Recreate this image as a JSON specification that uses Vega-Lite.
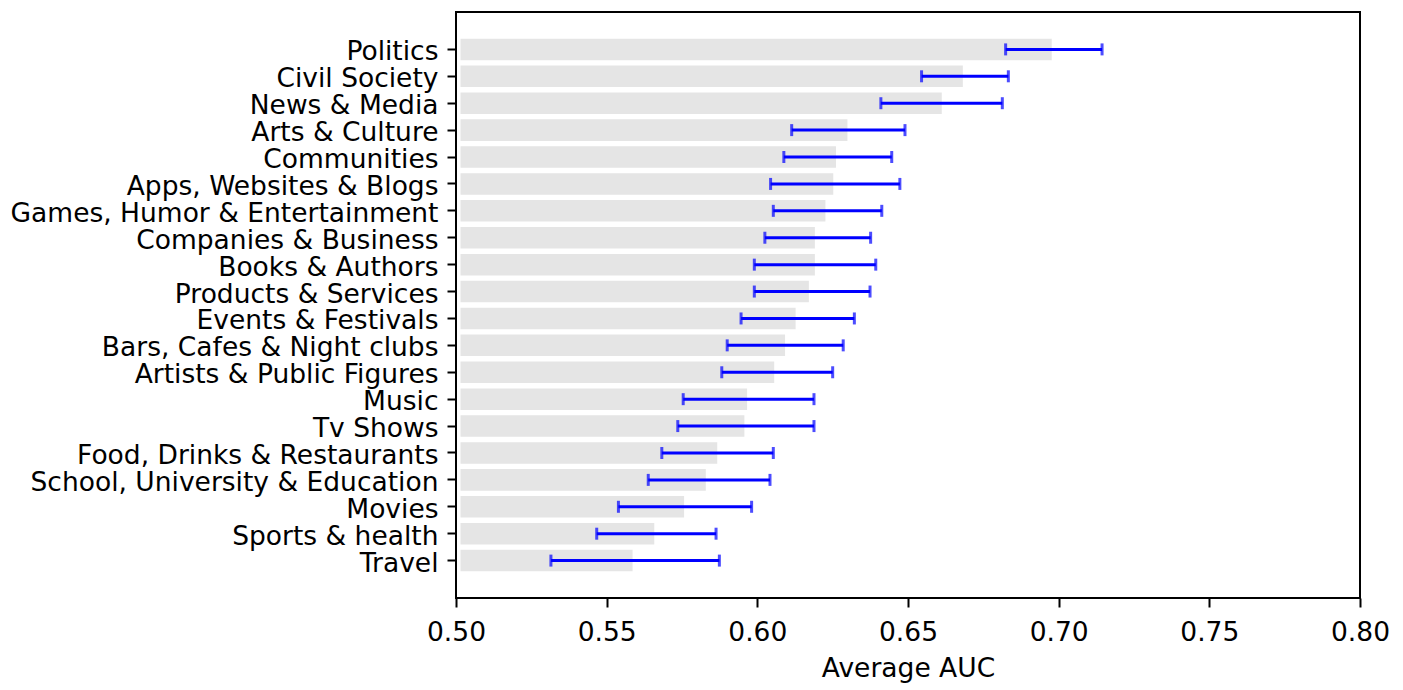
{
  "$schema": "https://vega.github.io/schema/vega-lite/v6.json",
  "width": 904,
  "height": 586,
  "autosize": {"type": "none"},
  "padding": {"left": 456, "top": 12, "right": 43, "bottom": 92},
  "background": "white",
  "config": {
    "font": "DejaVu Sans",
    "view": {"stroke": "black", "strokeWidth": 2},
    "axis": {"grid": false, "domain": false, "tickColor": "black", "tickWidth": 2, "tickSize": 9, "labelColor": "black", "labelFontSize": 26.5, "labelFont": "DejaVu Sans", "titleFont": "DejaVu Sans", "titleColor": "black", "titleFontWeight": "normal", "titleFontSize": 26.5}
  },
  "data": {
    "values": [
      {"category": "Politics", "auc": 0.6977, "lo": 0.6824, "hi": 0.7144},
      {"category": "Civil Society", "auc": 0.6682, "lo": 0.6545, "hi": 0.6833},
      {"category": "News & Media", "auc": 0.6612, "lo": 0.6410, "hi": 0.6813},
      {"category": "Arts & Culture", "auc": 0.6299, "lo": 0.6114, "hi": 0.6490},
      {"category": "Communities", "auc": 0.6261, "lo": 0.6088, "hi": 0.6446},
      {"category": "Apps, Websites & Blogs", "auc": 0.6252, "lo": 0.6044, "hi": 0.6473},
      {"category": "Games, Humor & Entertainment", "auc": 0.6226, "lo": 0.6053, "hi": 0.6413},
      {"category": "Companies & Business", "auc": 0.6191, "lo": 0.6025, "hi": 0.6376},
      {"category": "Books & Authors", "auc": 0.6191, "lo": 0.5990, "hi": 0.6393},
      {"category": "Products & Services", "auc": 0.6171, "lo": 0.5990, "hi": 0.6374},
      {"category": "Events & Festivals", "auc": 0.6127, "lo": 0.5946, "hi": 0.6322},
      {"category": "Bars, Cafes & Night clubs", "auc": 0.6092, "lo": 0.5900, "hi": 0.6285},
      {"category": "Artists & Public Figures", "auc": 0.6056, "lo": 0.5882, "hi": 0.6250},
      {"category": "Music", "auc": 0.5966, "lo": 0.5754, "hi": 0.6188},
      {"category": "Tv Shows", "auc": 0.5957, "lo": 0.5736, "hi": 0.6188},
      {"category": "Food, Drinks & Restaurants", "auc": 0.5867, "lo": 0.5683, "hi": 0.6053},
      {"category": "School, University & Education", "auc": 0.5829, "lo": 0.5638, "hi": 0.6042},
      {"category": "Movies", "auc": 0.5757, "lo": 0.5539, "hi": 0.5981},
      {"category": "Sports & health", "auc": 0.5658, "lo": 0.5467, "hi": 0.5863},
      {"category": "Travel\u00a0", "auc": 0.5586, "lo": 0.5315, "hi": 0.5874}
    ]
  },
  "encoding": {
    "y": {
      "field": "category",
      "type": "nominal",
      "sort": null,
      "scale": {"paddingInner": 0.2, "paddingOuter": 0.99},
      "axis": {"title": null, "labelPadding": 9, "labelLimit": 1000, "labelBaseline": "middle", "labelOffset": 3}
    }
  },
  "layer": [
    {
      "mark": {"type": "bar", "color": "#e5e5e5"},
      "encoding": {
        "x": {
          "field": "auc",
          "type": "quantitative",
          "scale": {"domain": [0.5, 0.8], "zero": false, "nice": false},
          "axis": {"title": "Average AUC", "values": [0.5, 0.55, 0.6, 0.65, 0.7, 0.75, 0.8], "format": ".2f", "labelPadding": 12, "titlePadding": 10, "labelFlush": false}
        },
        "x2": {"datum": 0.5015}
      }
    },
    {
      "mark": {"type": "rule", "color": "#0000ff", "strokeWidth": 3},
      "encoding": {
        "x": {"field": "lo", "type": "quantitative"},
        "x2": {"field": "hi"}
      }
    },
    {
      "mark": {"type": "tick", "color": "#0000ff", "thickness": 3, "size": 12, "orient": "vertical"},
      "encoding": {
        "x": {"field": "lo", "type": "quantitative"}
      }
    },
    {
      "mark": {"type": "tick", "color": "#0000ff", "thickness": 3, "size": 12, "orient": "vertical"},
      "encoding": {
        "x": {"field": "hi", "type": "quantitative"}
      }
    }
  ]
}
